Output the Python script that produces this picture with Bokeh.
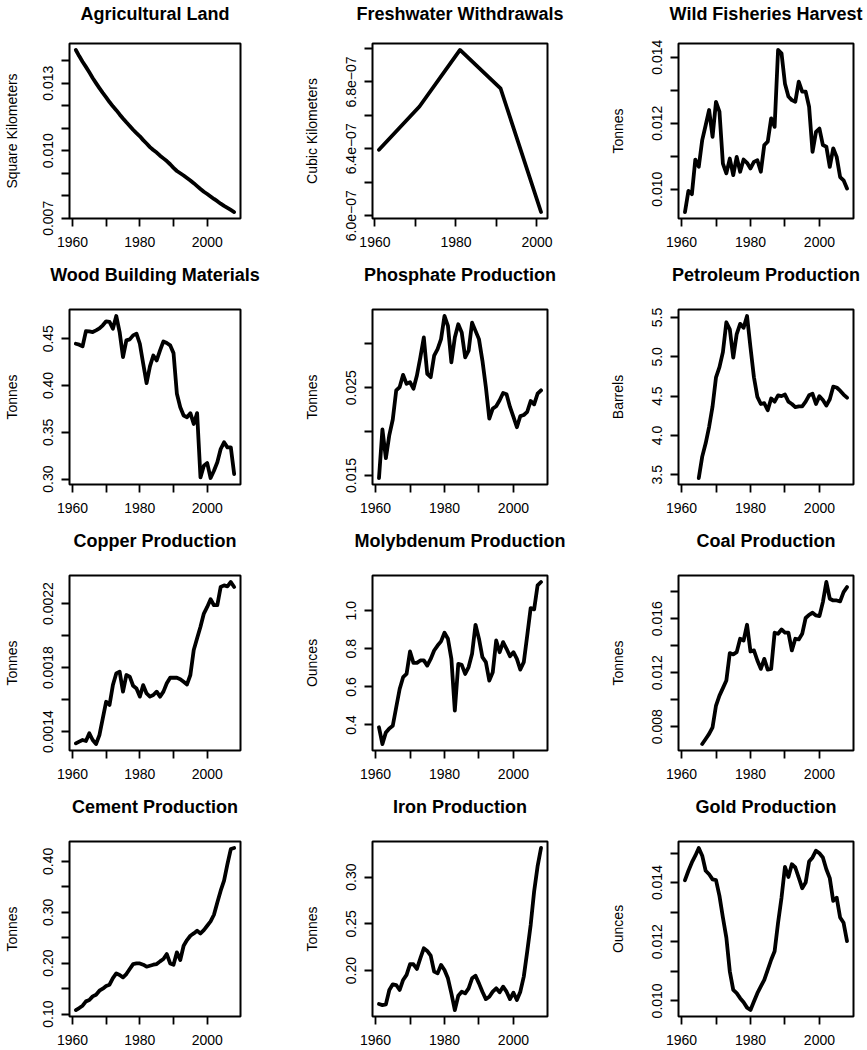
from bokeh.plotting import figure
from bokeh.layouts import column, row
from bokeh.models import Range1d, FixedTicker
from bokeh.embed import file_html
from bokeh.resources import INLINE

FONT = "Liberation Sans"

YEARS = list(range(1961, 2009))
FRESH_YEARS = [1961, 1971, 1981, 1991, 2001]
PETRO_YEARS = list(range(1965, 2009))
COAL_YEARS = list(range(1966, 2009))

X_TICKS = [1960, 1970, 1980, 1990, 2000]
X_TICK_LABELS = ["1960", "", "1980", "", "2000"]

AGRI = [0.01447, 0.01420, 0.01395, 0.01372, 0.01348, 0.01323, 0.01300, 0.01278, 0.01257, 0.01237,
        0.01216, 0.01197, 0.01180, 0.01161, 0.01143, 0.01126, 0.01110, 0.01093, 0.01078, 0.01064,
        0.01047, 0.01032, 0.01016, 0.01003, 0.00992, 0.00978, 0.00966, 0.00954, 0.00940, 0.00924,
        0.00910, 0.00900, 0.00890, 0.00879, 0.00868, 0.00856, 0.00843, 0.00830, 0.00818, 0.00808,
        0.00797, 0.00786, 0.00776, 0.00765, 0.00755, 0.00746, 0.00737, 0.00728]
AGRI_YTICKS = [0.007, 0.008, 0.009, 0.010, 0.011, 0.012, 0.013, 0.014]
AGRI_YLABELS = ["0.007", "", "", "0.010", "", "", "0.013", ""]

FRESH = [6.394e-07, 6.653e-07, 6.991e-07, 6.762e-07, 6.022e-07]
FRESH_YTICKS = [6.0e-07, 6.2e-07, 6.4e-07, 6.6e-07, 6.8e-07, 7.0e-07]
FRESH_YLABELS = ["6.0e\u221207", "", "6.4e\u221207", "", "6.8e\u221207", ""]

FISH = [0.00931, 0.00995, 0.00985, 0.01090, 0.01068, 0.01149, 0.01194, 0.01240, 0.01159, 0.01265,
        0.01235, 0.01078, 0.01048, 0.01093, 0.01043, 0.01098, 0.01053, 0.01090, 0.01080, 0.01063,
        0.01083, 0.01088, 0.01053, 0.01134, 0.01144, 0.01215, 0.01189, 0.01422, 0.01412, 0.01320,
        0.01281, 0.01270, 0.01265, 0.01326, 0.01296, 0.01296, 0.01250, 0.01113, 0.01174, 0.01184,
        0.01134, 0.01129, 0.01068, 0.01124, 0.01098, 0.01037, 0.01027, 0.01002]
FISH_YTICKS = [0.010, 0.011, 0.012, 0.013, 0.014]
FISH_YLABELS = ["0.010", "", "0.012", "", "0.014"]

WOOD = [0.4446, 0.4436, 0.4418, 0.4582, 0.4579, 0.4571, 0.4589, 0.4610, 0.4643, 0.4686,
        0.4679, 0.4607, 0.4743, 0.4571, 0.4304, 0.4482, 0.4493, 0.4536, 0.4554, 0.4446,
        0.4232, 0.4025, 0.4204, 0.4321, 0.4268, 0.4375, 0.4471, 0.4454, 0.4429, 0.4346,
        0.3911, 0.3768, 0.3679, 0.3661, 0.3704, 0.3589, 0.3704, 0.3018, 0.3143, 0.3171,
        0.3011, 0.3089, 0.3179, 0.3321, 0.3393, 0.3339, 0.3339, 0.3054]
WOOD_YTICKS = [0.30, 0.35, 0.40, 0.45]
WOOD_YLABELS = ["0.30", "0.35", "0.40", "0.45"]

PHOS = [0.01470, 0.02025, 0.01696, 0.01960, 0.02138, 0.02470, 0.02508, 0.02647, 0.02545, 0.02564,
        0.02489, 0.02640, 0.02847, 0.03074, 0.02658, 0.02621, 0.02866, 0.02942, 0.03055, 0.03319,
        0.03206, 0.02791, 0.03074, 0.03225, 0.03131, 0.02847, 0.02923, 0.03243, 0.03149, 0.03055,
        0.02810, 0.02508, 0.02149, 0.02262, 0.02289, 0.02357, 0.02440, 0.02425, 0.02281, 0.02168,
        0.02049, 0.02177, 0.02189, 0.02226, 0.02349, 0.02311, 0.02432, 0.02470]
PHOS_YTICKS = [0.015, 0.020, 0.025, 0.030]
PHOS_YLABELS = ["0.015", "", "0.025", ""]

PETRO = [3.458, 3.73, 3.90, 4.11, 4.37, 4.74, 4.87, 5.06, 5.44, 5.35,
         4.99, 5.29, 5.42, 5.37, 5.52, 5.12, 4.74, 4.49, 4.40, 4.41,
         4.32, 4.47, 4.43, 4.51, 4.50, 4.52, 4.43, 4.40, 4.36, 4.37,
         4.37, 4.43, 4.51, 4.53, 4.40, 4.50, 4.45, 4.38, 4.46, 4.62,
         4.61, 4.57, 4.52, 4.48]
PETRO_YTICKS = [3.5, 4.0, 4.5, 5.0, 5.5]
PETRO_YLABELS = ["3.5", "4.0", "4.5", "5.0", "5.5"]

COPPER = [0.001327, 0.001338, 0.001348, 0.001342, 0.001390, 0.001348, 0.001323, 0.001379, 0.001483, 0.001587,
          0.001567, 0.001691, 0.001764, 0.001775, 0.001650, 0.001754, 0.001744, 0.001687, 0.001670, 0.001619,
          0.001691, 0.001639, 0.001619, 0.001629, 0.001650, 0.001619, 0.001650, 0.001702, 0.001737, 0.001737,
          0.001737, 0.001728, 0.001712, 0.001695, 0.001754, 0.001910, 0.001983, 0.002055, 0.002138, 0.002179,
          0.002227, 0.002190, 0.002190, 0.002304, 0.002314, 0.002308, 0.002335, 0.002304]
COPPER_YTICKS = [0.0014, 0.0016, 0.0018, 0.0020, 0.0022]
COPPER_YLABELS = ["0.0014", "", "0.0018", "", "0.0022"]

MOLY = [0.388, 0.300, 0.361, 0.382, 0.396, 0.493, 0.589, 0.651, 0.668, 0.786,
        0.726, 0.726, 0.739, 0.739, 0.712, 0.747, 0.791, 0.817, 0.839, 0.884,
        0.853, 0.747, 0.475, 0.721, 0.716, 0.668, 0.704, 0.774, 0.926, 0.853,
        0.756, 0.730, 0.633, 0.677, 0.844, 0.782, 0.835, 0.800, 0.761, 0.782,
        0.747, 0.691, 0.730, 0.870, 1.014, 1.007, 1.133, 1.151]
MOLY_YTICKS = [0.4, 0.6, 0.8, 1.0]
MOLY_YLABELS = ["0.4", "0.6", "0.8", "1.0"]

COAL = [0.00671, 0.00708, 0.00746, 0.00795, 0.00956, 0.01030, 0.01085, 0.01142, 0.01345, 0.01335,
        0.01352, 0.01451, 0.01438, 0.01555, 0.01357, 0.01365, 0.01290, 0.01228, 0.01302, 0.01223,
        0.01228, 0.01496, 0.01488, 0.01520, 0.01496, 0.01496, 0.01365, 0.01451, 0.01446, 0.01488,
        0.01605, 0.01629, 0.01644, 0.01624, 0.01619, 0.01723, 0.01872, 0.01748, 0.01735, 0.01735,
        0.01728, 0.01797, 0.01834]
COAL_YTICKS = [0.008, 0.010, 0.012, 0.014, 0.016, 0.018]
COAL_YLABELS = ["0.008", "", "0.012", "", "0.016", ""]

CEMENT = [0.1079, 0.1118, 0.1164, 0.1249, 0.1275, 0.1347, 0.1380, 0.1458, 0.1498, 0.1550,
          0.1576, 0.1707, 0.1799, 0.1766, 0.1720, 0.1786, 0.1884, 0.1982, 0.1995, 0.1995,
          0.1969, 0.1930, 0.1949, 0.1969, 0.1982, 0.2035, 0.2081, 0.2179, 0.1995, 0.1969,
          0.2212, 0.2061, 0.2342, 0.2453, 0.2539, 0.2584, 0.2637, 0.2584, 0.2650, 0.2735,
          0.2820, 0.2951, 0.3194, 0.3423, 0.3620, 0.3947, 0.4242, 0.4263]
CEMENT_YTICKS = [0.10, 0.15, 0.20, 0.25, 0.30, 0.35, 0.40]
CEMENT_YLABELS = ["0.10", "", "0.20", "", "0.30", "", "0.40"]

IRON = [0.1643, 0.1632, 0.1639, 0.1793, 0.1854, 0.1846, 0.1793, 0.1900, 0.1954, 0.2068,
        0.2068, 0.2018, 0.2132, 0.2239, 0.2211, 0.2161, 0.1989, 0.1971, 0.2061, 0.2007,
        0.1918, 0.1757, 0.1579, 0.1732, 0.1775, 0.1757, 0.1811, 0.1918, 0.1946, 0.1864,
        0.1775, 0.1696, 0.1721, 0.1775, 0.1811, 0.1768, 0.1829, 0.1775, 0.1696, 0.1764,
        0.1686, 0.1775, 0.1936, 0.2204, 0.2489, 0.2846, 0.3114, 0.3311]
IRON_YTICKS = [0.20, 0.25, 0.30]
IRON_YLABELS = ["0.20", "0.25", "0.30"]

GOLD = [0.01408, 0.01440, 0.01468, 0.01491, 0.01517, 0.01491, 0.01440, 0.01428, 0.01411, 0.01408,
        0.01355, 0.01282, 0.01214, 0.01100, 0.01037, 0.01026, 0.01009, 0.00995, 0.00977, 0.00969,
        0.00998, 0.01026, 0.01049, 0.01071, 0.01105, 0.01139, 0.01168, 0.01264, 0.01349, 0.01453,
        0.01419, 0.01462, 0.01451, 0.01417, 0.01381, 0.01400, 0.01471, 0.01485, 0.01508, 0.01499,
        0.01485, 0.01445, 0.01415, 0.01338, 0.01349, 0.01282, 0.01264, 0.01202]
GOLD_YTICKS = [0.010, 0.011, 0.012, 0.013, 0.014, 0.015]
GOLD_YLABELS = ["0.010", "", "0.012", "", "0.014", ""]

PANELS = [
    ("Agricultural Land", "Square Kilometers", YEARS, AGRI, AGRI_YTICKS, AGRI_YLABELS, YEARS),
    ("Freshwater Withdrawals", "Cubic Kilometers", FRESH_YEARS, FRESH, FRESH_YTICKS, FRESH_YLABELS, FRESH_YEARS),
    ("Wild Fisheries Harvest", "Tonnes", YEARS, FISH, FISH_YTICKS, FISH_YLABELS, YEARS),
    ("Wood Building Materials", "Tonnes", YEARS, WOOD, WOOD_YTICKS, WOOD_YLABELS, YEARS),
    ("Phosphate Production", "Tonnes", YEARS, PHOS, PHOS_YTICKS, PHOS_YLABELS, YEARS),
    ("Petroleum Production", "Barrels", PETRO_YEARS, PETRO, PETRO_YTICKS, PETRO_YLABELS, YEARS),
    ("Copper Production", "Tonnes", YEARS, COPPER, COPPER_YTICKS, COPPER_YLABELS, YEARS),
    ("Molybdenum Production", "Ounces", YEARS, MOLY, MOLY_YTICKS, MOLY_YLABELS, YEARS),
    ("Coal Production", "Tonnes", COAL_YEARS, COAL, COAL_YTICKS, COAL_YLABELS, YEARS),
    ("Cement Production", "Tonnes", YEARS, CEMENT, CEMENT_YTICKS, CEMENT_YLABELS, YEARS),
    ("Iron Production", "Tonnes", YEARS, IRON, IRON_YTICKS, IRON_YLABELS, YEARS),
    ("Gold Production", "Ounces", YEARS, GOLD, GOLD_YTICKS, GOLD_YLABELS, YEARS),
]

FRAME_W = 175
FRAME_H = 175
LEFTS = [65, 72, 72]
RIGHTS = [60, 59, 12]
TOPS = [43, 49, 49, 49]
BOTTOMS = [42, 42, 42, 34]
TITLE_LIFT = [20, 25, 25, 25]
YLABEL_STANDOFF = [21, 24, 24]


def r_range(vals):
    lo, hi = min(vals), max(vals)
    pad = (hi - lo) * 0.04
    return lo - pad, hi + pad


def make_panel(idx, spec):
    title, ylab, xs, ys, yticks, ylabels, xrange_src = spec
    r, c = divmod(idx, 3)
    xr = r_range(xrange_src)
    yr = r_range(ys)
    p = figure(width=LEFTS[c] + FRAME_W + RIGHTS[c], height=TOPS[r] + FRAME_H + BOTTOMS[r],
               x_range=Range1d(*xr), y_range=Range1d(*yr),
               output_backend="svg", toolbar_location=None, tools="",
               min_border_left=LEFTS[c], min_border_right=RIGHTS[c],
               min_border_top=TOPS[r], min_border_bottom=BOTTOMS[r])
    p.title.text = title
    p.title.align = "center"
    p.title.vertical_align = "bottom"
    p.title.text_font = FONT
    p.title.text_font_size = "18px"
    p.title.text_font_style = "bold"
    p.title.text_color = "black"
    p.title.standoff = 0
    p.title.padding = dict(left=0, right=0, top=0, bottom=TITLE_LIFT[r])

    p.xgrid.visible = False
    p.ygrid.visible = False
    p.outline_line_color = "black"
    p.outline_line_width = 2
    p.outline_line_alpha = 1.0
    p.background_fill_color = "white"
    p.border_fill_color = "white"

    for ax in (p.xaxis[0], p.yaxis[0]):
        ax.axis_line_color = None
        ax.major_tick_line_color = "black"
        ax.major_tick_line_width = 1.8
        ax.major_tick_in = 0
        ax.major_tick_out = 8
        ax.minor_tick_line_color = None
        ax.major_label_text_font = FONT
        ax.major_label_text_font_size = "14px"
        ax.major_label_text_color = "black"
        ax.axis_label_text_font = FONT
        ax.axis_label_text_font_size = "14px"
        ax.axis_label_text_font_style = "normal"
        ax.axis_label_text_color = "black"

    xa = p.xaxis[0]
    xa.ticker = FixedTicker(ticks=X_TICKS, minor_ticks=[])
    xa.major_label_overrides = dict(zip(X_TICKS, X_TICK_LABELS))
    xa.major_label_standoff = 10

    ya = p.yaxis[0]
    ya.ticker = FixedTicker(ticks=yticks, minor_ticks=[])
    ya.major_label_overrides = dict(zip(yticks, ylabels))
    ya.major_label_orientation = "vertical"
    ya.major_label_standoff = 8
    ya.axis_label = ylab
    ya.axis_label_standoff = YLABEL_STANDOFF[c]

    p.line(xs, ys, line_color="black", line_width=3.8, line_join="round", line_cap="round")
    return p


figs = [make_panel(i, s) for i, s in enumerate(PANELS)]
layout = column(*[row(*figs[i:i + 3]) for i in range(0, 12, 3)])

open("out.html", "w").write(file_html(layout, INLINE, title="Resource charts"))
